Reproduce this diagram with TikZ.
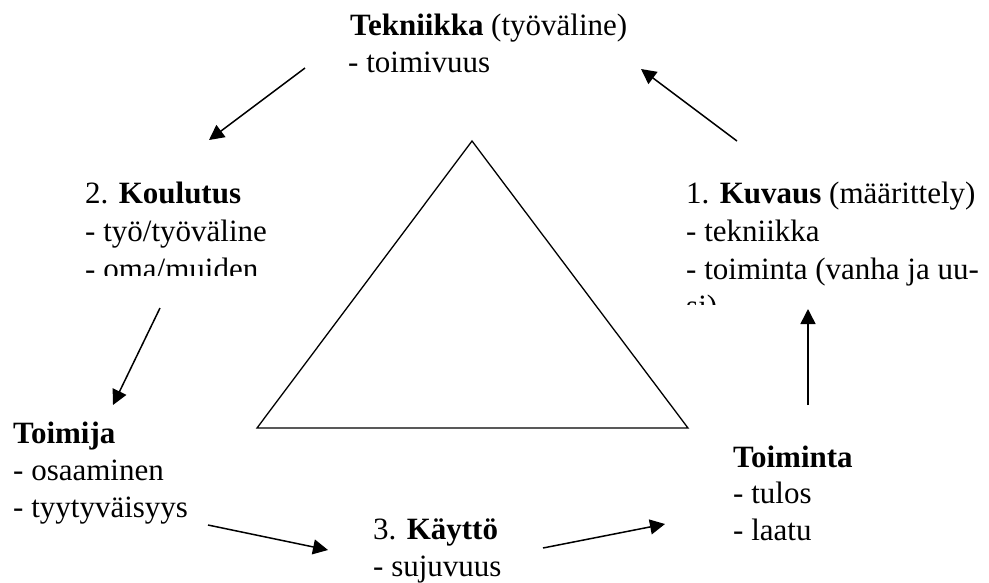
\documentclass[tikz,border=0pt]{standalone}
\usepackage{fontspec}
\setmainfont{Liberation Serif}
\usetikzlibrary{arrows.meta}
\begin{document}
\begin{tikzpicture}[x=1pt,y=-1pt,
  txt/.style={anchor=base west,inner sep=0pt,font=\fontsize{31}{37.5}\selectfont},
  arr/.style={line width=1.5pt,-{Triangle[length=15pt,width=15pt]}},
  tri/.style={line width=1.3pt,line join=miter}]
\useasboundingbox (0,0) rectangle (989,582);
% Tekniikka
\node[txt] (tek1) at (350,35) {\textbf{Tekniikka} (työväline)};
\node[txt] (tek2) at (348,72.5) {- toimivuus};
% Koulutus
\node[txt] (kou1) at (85,203) {2. \textbf{Koulutus}};
\node[txt] (kou2) at (85,241) {- työ/työväline};
\begin{scope}
  \clip (60,245) rectangle (320,275);
  \node[txt] (kou3) at (85,279) {- oma/muiden};
\end{scope}
% Kuvaus
\node[txt] (kuv1) at (686,203) {1. \textbf{Kuvaus} (määrittely)};
\node[txt] (kuv2) at (686,241) {- tekniikka};
\node[txt] (kuv3) at (686,279) {- toiminta (vanha ja uu-};
\begin{scope}
  \clip (670,284) rectangle (989,304);
  \node[txt] (kuv4) at (686,316.5) {si)};
\end{scope}
% Toimija
\node[txt] (toj1) at (13,443) {\textbf{Toimija}};
\node[txt] (toj2) at (13,480) {- osaaminen};
\node[txt] (toj3) at (13,517) {- tyytyväisyys};
% Toiminta
\node[txt] (ton1) at (733,467) {\textbf{Toiminta}};
\node[txt] (ton2) at (733,503.5) {- tulos};
\node[txt] (ton3) at (733,540) {- laatu};
% Kaytto
\node[txt] (kay1) at (373,539) {3. \textbf{Käyttö}};
\node[txt] (kay2) at (373,576.5) {- sujuvuus};
% triangle
\coordinate (ta) at (472,141);
\coordinate (tl) at (257,428);
\coordinate (tr) at (688,428);
\draw[tri] (tl) -- (ta) -- (tr) -- cycle;
% arrows
\coordinate (a1s) at (305,68);  \coordinate (a1e) at (209,140);
\coordinate (a2s) at (160,308); \coordinate (a2e) at (113,405);
\coordinate (a3s) at (208,525); \coordinate (a3e) at (328,550);
\coordinate (a4s) at (543,548); \coordinate (a4e) at (665,524);
\coordinate (a5s) at (808,405); \coordinate (a5e) at (808,309);
\coordinate (a6s) at (737,141); \coordinate (a6e) at (641,69);
\draw[arr] (a1s) -- (a1e);
\draw[arr] (a2s) -- (a2e);
\draw[arr] (a3s) -- (a3e);
\draw[arr] (a4s) -- (a4e);
\draw[arr] (a5s) -- (a5e);
\draw[arr] (a6s) -- (a6e);
\end{tikzpicture}
\end{document}
